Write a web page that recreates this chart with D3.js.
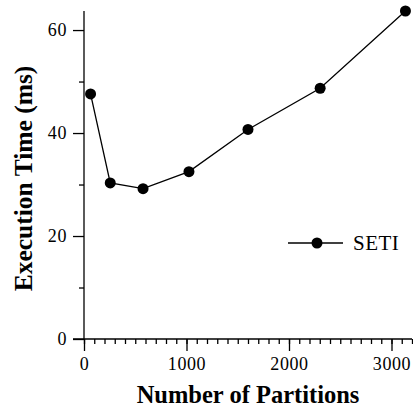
<!DOCTYPE html>
<meta charset="utf-8" />
<title>Execution time vs partitions</title>
<style>
  body { margin: 0; background: #fff; }
  svg { display: block; font-family: "Liberation Serif", "Times New Roman", serif; }
  .axis path, .axis line { stroke: #000; stroke-width: 1.3px; }
  .title { font-weight: bold; }
</style>
<body>
  <svg></svg>
  <script src="https://d3js.org/d3.v7.min.js"></script>
  <script>
    const partitions = [64, 256, 576, 1024, 1600, 2304, 3136];
    const execTime = [47.6, 30.3, 29.2, 32.5, 40.7, 48.7, 63.7];
    const seriesName = "SETI";
    const xTicks = [0, 1000, 2000, 3000];
    const yTicks = [0, 20, 40, 60];

    const width = 413, height = 410;
    const serif = '"Liberation Serif", "Times New Roman", serif';
    const svg = d3.select("svg").attr("width", width).attr("height", height);

    const x = d3.scaleLinear().domain([0, 3200]).range([84, 412]);
    const y = d3.scaleLinear().domain([0, 63.7]).range([339, 11]);

    function serifLabels(g) {
      g.selectAll("text")
        .style("font-family", serif)
        .style("font-size", "18px")
        .style("letter-spacing", "0.6px")
        .attr("fill", "#000");
    }

    // minor ticks
    svg.append("g")
      .attr("class", "axis")
      .attr("transform", `translate(0,${y(0)})`)
      .call(d3.axisBottom(x).tickValues(d3.range(0, 3201, 100)).tickSize(5).tickFormat(""))
      .call(g => g.select(".domain").remove());
    svg.append("g")
      .attr("class", "axis")
      .attr("transform", `translate(${x(0)},0)`)
      .call(d3.axisLeft(y).tickValues([10, 30, 50]).tickSize(5).tickFormat(""))
      .call(g => g.select(".domain").remove());

    // major ticks
    svg.append("g")
      .attr("class", "axis")
      .attr("transform", `translate(0,${y(0)})`)
      .call(d3.axisBottom(x).tickValues(xTicks).tickSize(12).tickSizeOuter(0).tickPadding(6).tickFormat(d3.format("d")))
      .call(serifLabels)
      .call(g => g.select(".domain").attr("d", `M${x(0) - 11},0H${x(3200)}`));
    svg.append("g")
      .attr("class", "axis")
      .attr("transform", `translate(${x(0)},0)`)
      .call(d3.axisLeft(y).tickValues(yTicks).tickSize(11).tickSizeOuter(0).tickPadding(6).tickFormat(d3.format("d")))
      .call(serifLabels)
      .call(g => g.select(".domain").attr("d", `M0,${y(0)}V${y(63.7)}`));

    const pts = partitions.map((p, i) => [p, execTime[i]]);
    svg.append("path")
      .datum(pts)
      .attr("fill", "none")
      .attr("stroke", "#000")
      .attr("stroke-width", 1.3)
      .attr("d", d3.line().x(d => x(d[0])).y(d => y(d[1])));

    svg.append("g")
      .selectAll("circle")
      .data(pts)
      .join("circle")
      .attr("cx", d => x(d[0]))
      .attr("cy", d => y(d[1]))
      .attr("r", 5.5)
      .attr("fill", "#000");

    // legend
    const lg = svg.append("g").attr("transform", "translate(288,243)");
    lg.append("line").attr("x1", 0).attr("x2", 55).attr("stroke", "#000").attr("stroke-width", 1.3);
    lg.append("circle").attr("cx", 29).attr("r", 5.5).attr("fill", "#000");
    lg.append("text").attr("x", 65).attr("dy", "0.35em")
      .style("font-size", "21px").style("letter-spacing", "0.5px")
      .text(seriesName);

    svg.append("text")
      .attr("class", "title")
      .attr("x", 248).attr("y", 403)
      .attr("text-anchor", "middle")
      .style("font-size", "24.5px")
      .text("Number of Partitions");

    svg.append("text")
      .attr("class", "title")
      .attr("transform", "translate(32,178.5) rotate(-90)")
      .attr("text-anchor", "middle")
      .style("font-size", "25.5px")
      .text("Execution Time (ms)");
  </script>
</body>
